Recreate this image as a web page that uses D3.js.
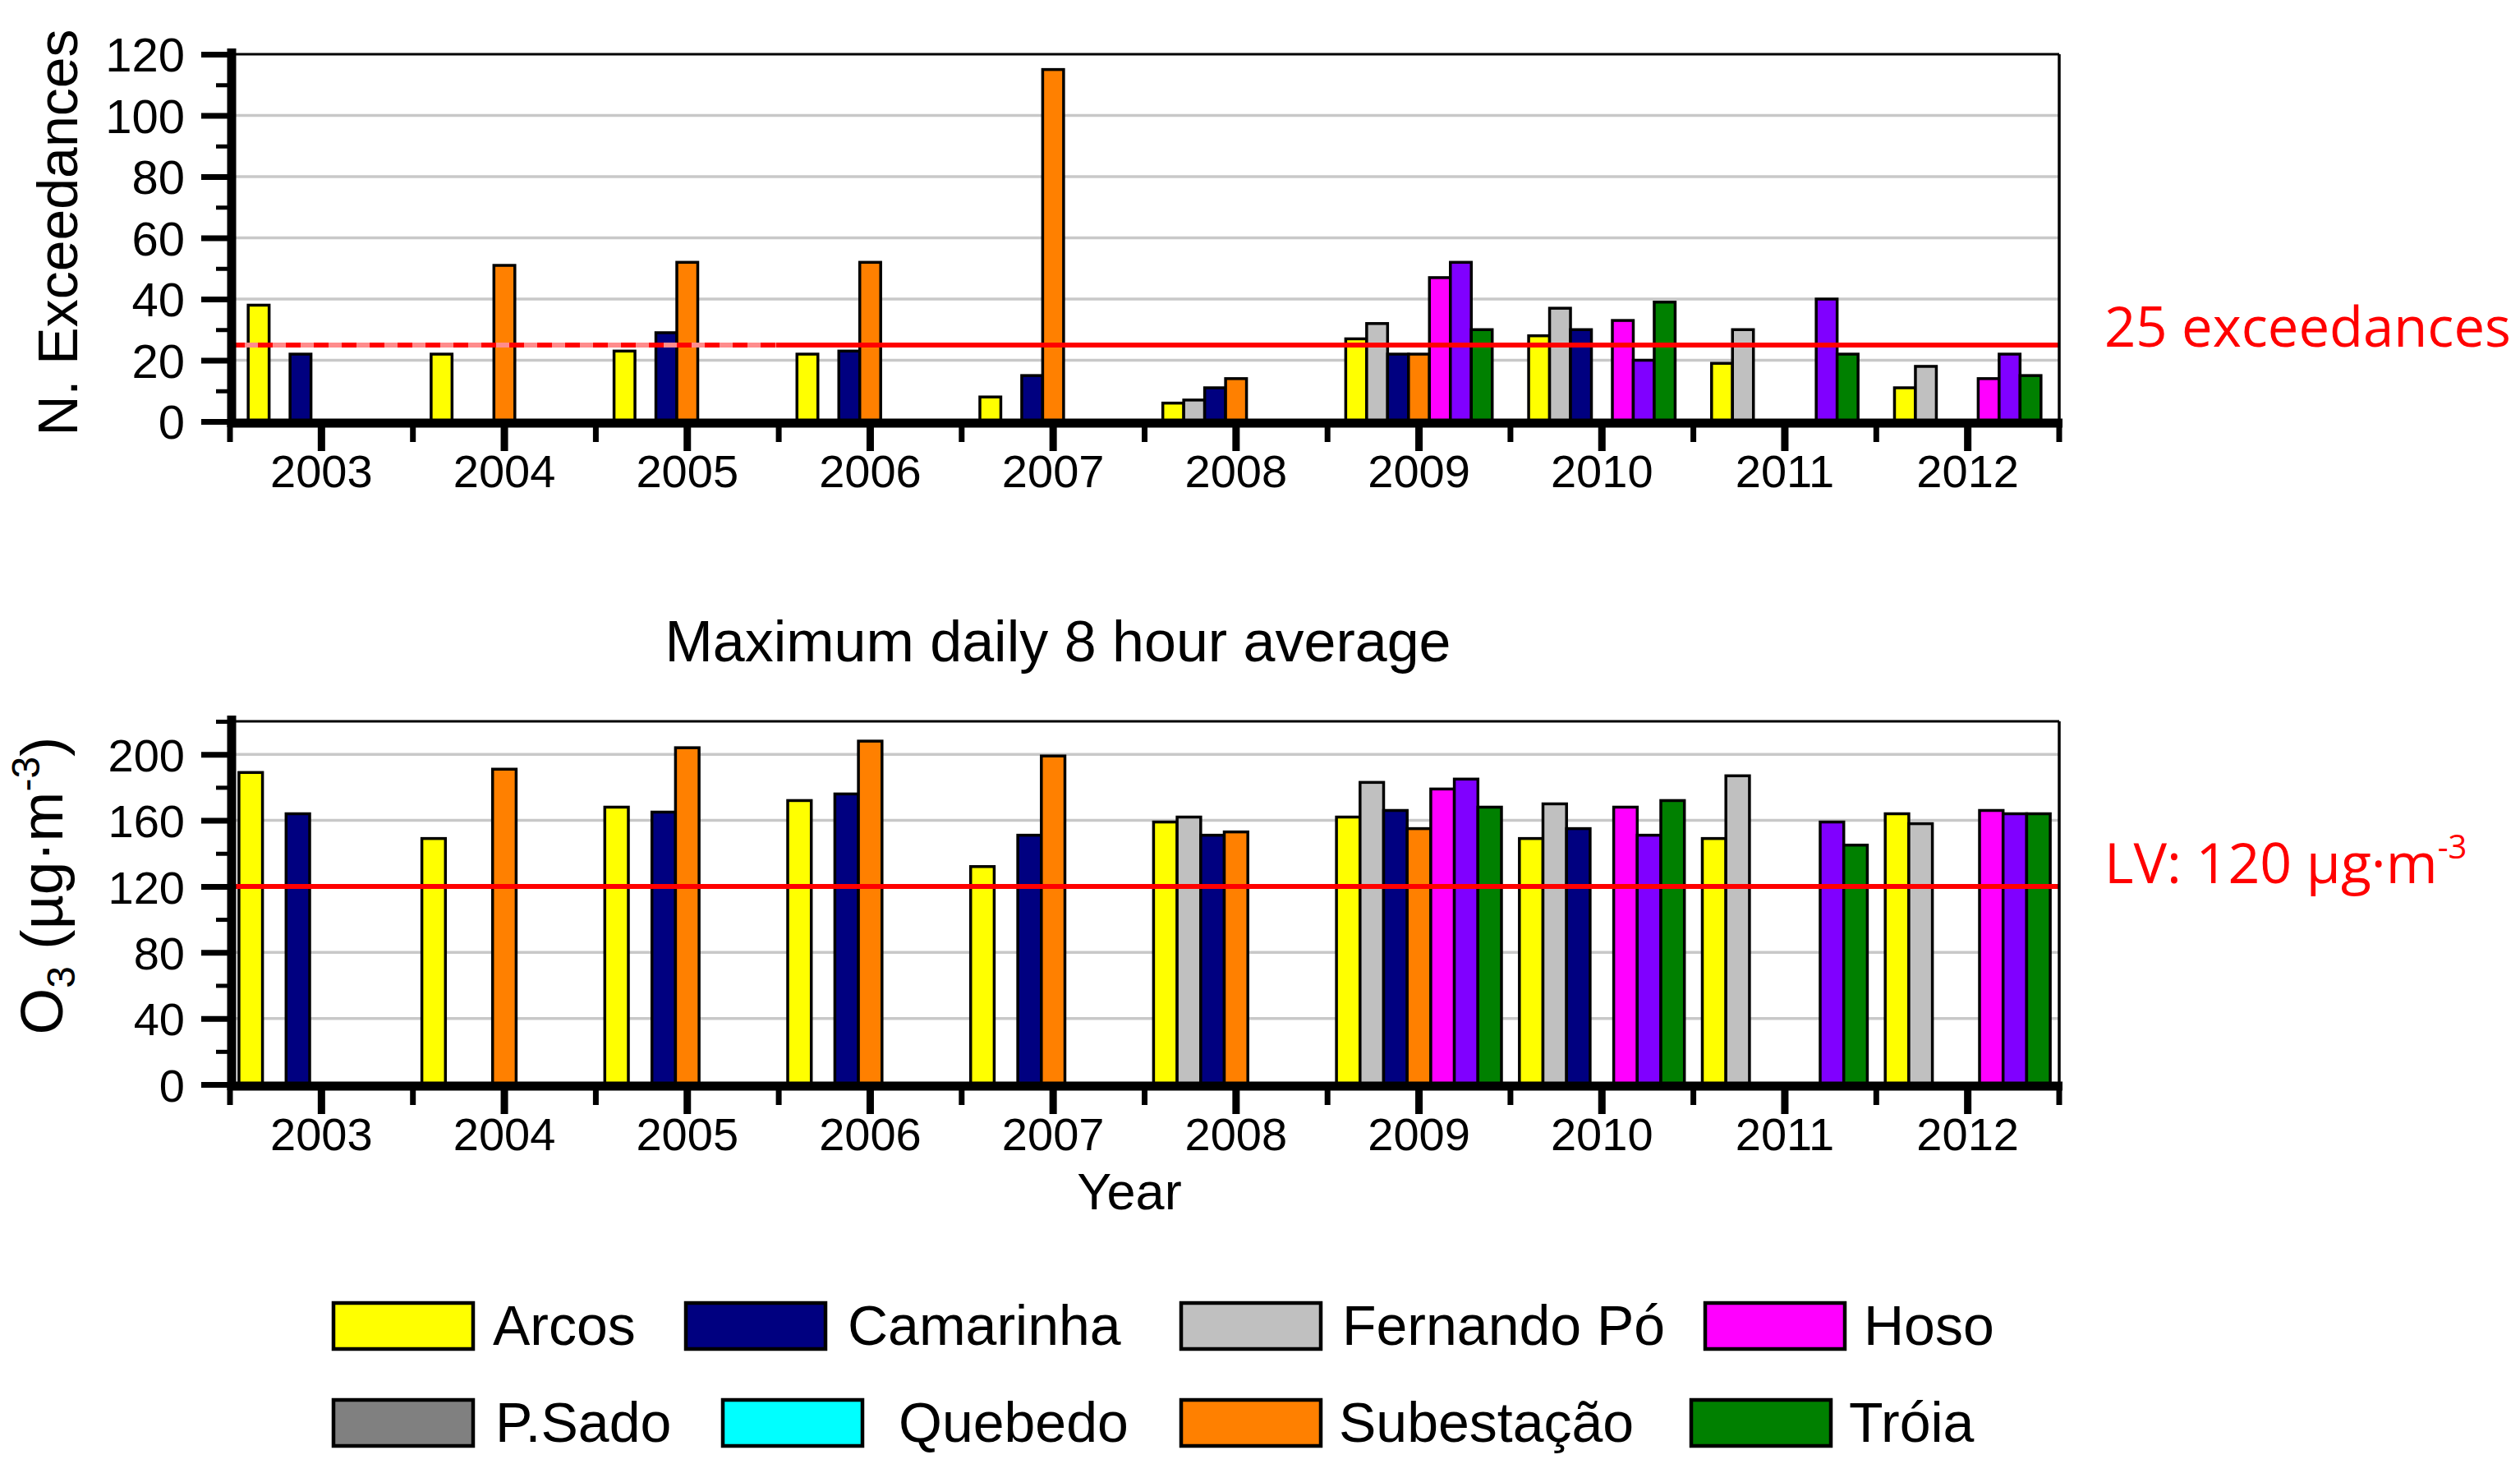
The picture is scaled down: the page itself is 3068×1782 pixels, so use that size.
<!DOCTYPE html>
<html>
<head>
<meta charset="utf-8">
<script src="https://cdn.jsdelivr.net/npm/d3@7"></script>
<style>
  html, body { margin: 0; padding: 0; background: #fff; }
  svg { display: block; }
  text { font-family: "Liberation Sans", Arial, sans-serif; fill: #000; }
  text.red { font-family: "Open Sans", sans-serif; fill: #ff0000; }
</style>
</head>
<body>
<div id="chart"></div>
<script>
const years = [2003, 2004, 2005, 2006, 2007, 2008, 2009, 2010, 2011, 2012];

/* order of the bars inside every year group */
const seriesNames = ['Arcos', 'Fernando Pó', 'Camarinha', 'Subestação', 'Hoso', 'Unlisted', 'Tróia'];

/* N. exceedances (null = no bar) */
const exArcos      = [38, 22, 23, 22, 8, 6, 27, 28, 19, 11];
const exFernandoPo = [null, null, null, null, null, 7, 32, 37, 30, 18];
const exCamarinha  = [22, null, 29, 23, 15, 11, 22, 30, null, null];
const exSubestacao = [null, 51, 52, 52, 115, 14, 22, null, null, null];
const exHoso       = [null, null, null, null, null, null, 47, 33, null, 14];
const exUnlisted   = [null, null, null, null, null, null, 52, 20, 40, 22];
const exTroia      = [null, null, null, null, null, null, 30, 39, 22, 15];

/* Maximum daily 8 hour average, ug/m3 */
const o3Arcos      = [189, 149, 168, 172, 132, 159, 162, 149, 149, 164];
const o3FernandoPo = [null, null, null, null, null, 162, 183, 170, 187, 158];
const o3Camarinha  = [164, null, 165, 176, 151, 151, 166, 155, null, null];
const o3Subestacao = [null, 191, 204, 208, 199, 153, 155, null, null, null];
const o3Hoso       = [null, null, null, null, null, null, 179, 168, null, 166];
const o3Unlisted   = [null, null, null, null, null, null, 185, 151, 159, 164];
const o3Troia      = [null, null, null, null, null, null, 168, 172, 145, 164];

const legendNames = ['Arcos', 'Camarinha', 'Fernando Pó', 'Hoso', 'P.Sado', 'Quebedo', 'Subestação', 'Tróia'];

const exTable = [exArcos, exFernandoPo, exCamarinha, exSubestacao, exHoso, exUnlisted, exTroia];
const o3Table = [o3Arcos, o3FernandoPo, o3Camarinha, o3Subestacao, o3Hoso, o3Unlisted, o3Troia];

const color = d3.scaleOrdinal()
    .domain(['Arcos', 'Camarinha', 'Fernando Pó', 'Hoso', 'P.Sado', 'Quebedo', 'Subestação', 'Tróia', 'Unlisted'])
    .range(['#ffff00', '#000080', '#c0c0c0', '#ff00ff', '#808080', '#00ffff', '#ff8000', '#008000', '#8000ff']);

const W = 3068, H = 1782;
const plotLeft = 280, plotRight = 2507;

const svg = d3.select('#chart').append('svg')
    .attr('width', W)
    .attr('height', H);

const x0 = d3.scaleBand().domain(years).range([plotLeft, plotRight]).padding(0);

function drawPanel(cfg) {
    const y = d3.scaleLinear().domain([0, cfg.max]).range([cfg.bottom, cfg.top]);
    const x1 = d3.scaleBand().domain(seriesNames)
        .range([0, x0.bandwidth()])
        .paddingInner(0)
        .paddingOuter(cfg.padOuter);

    const g = svg.append('g').attr('class', 'panel');

    /* grid */
    g.append('g').selectAll('line').data(cfg.grid).join('line')
        .attr('x1', plotLeft).attr('x2', plotRight)
        .attr('y1', d => y(d)).attr('y2', d => y(d))
        .attr('stroke', '#c8c8c8').attr('stroke-width', 3.5);

    /* bars */
    const groups = years.map((yr, i) => seriesNames
        .map((s, k) => ({ year: yr, key: s, value: cfg.table[k][i] }))
        .filter(d => d.value != null));

    g.append('g').selectAll('g').data(groups).join('g')
        .attr('transform', (d, i) => 'translate(' + x0(years[i]) + ',0)')
        .selectAll('rect').data(d => d).join('rect')
        .attr('x', d => x1(d.key))
        .attr('width', x1.bandwidth())
        .attr('y', d => y(d.value))
        .attr('height', d => y(0) - y(d.value))
        .attr('fill', d => color(d.key))
        .attr('stroke', '#000')
        .attr('stroke-width', 3.5);

    /* limit line */
    const ly = y(cfg.limit);
    if (cfg.dashedUntil) {
        g.append('line')
            .attr('x1', plotLeft).attr('x2', cfg.dashedUntil).attr('y1', ly).attr('y2', ly)
            .attr('stroke', '#ff8c8c').attr('stroke-width', 6);
        g.append('line')
            .attr('x1', plotLeft).attr('x2', cfg.dashedUntil).attr('y1', ly).attr('y2', ly)
            .attr('stroke', '#ff0000').attr('stroke-width', 6)
            .attr('stroke-dasharray', '18 16');
        g.append('line')
            .attr('x1', cfg.dashedUntil).attr('x2', plotRight).attr('y1', ly).attr('y2', ly)
            .attr('stroke', '#ff0000').attr('stroke-width', 6);
    } else {
        g.append('line')
            .attr('x1', plotLeft).attr('x2', plotRight).attr('y1', ly).attr('y2', ly)
            .attr('stroke', '#ff0000').attr('stroke-width', 6);
    }

    /* thin frame: top and right */
    g.append('line')
        .attr('x1', plotLeft).attr('x2', plotRight)
        .attr('y1', cfg.top).attr('y2', cfg.top)
        .attr('stroke', '#000').attr('stroke-width', 3);
    g.append('line')
        .attr('x1', plotRight).attr('x2', plotRight)
        .attr('y1', cfg.top).attr('y2', cfg.bottom)
        .attr('stroke', '#000').attr('stroke-width', 3.5);

    /* y axis: major + minor ticks */
    const yAxis = g.append('g').attr('transform', 'translate(' + (plotLeft + 2) + ',0)')
        .call(d3.axisLeft(y).tickValues(cfg.major).tickSize(37).tickPadding(20).tickFormat(d3.format('d')));
    yAxis.select('.domain').remove();
    yAxis.selectAll('.tick line').attr('stroke', '#000').attr('stroke-width', 7);
    yAxis.selectAll('.tick text')
        .attr('font-size', cfg.tickFont)
        .attr('font-family', '"Liberation Sans", Arial, sans-serif')
        .attr('fill', '#000')
        .attr('dy', '0.36em');

    const yMinor = g.append('g').attr('transform', 'translate(' + (plotLeft + 2) + ',0)')
        .call(d3.axisLeft(y).tickValues(cfg.minor).tickSize(19).tickFormat(''));
    yMinor.select('.domain').remove();
    yMinor.selectAll('.tick line').attr('stroke', '#000').attr('stroke-width', 5);

    g.append('line')
        .attr('x1', plotLeft + 2).attr('x2', plotLeft + 2)
        .attr('y1', cfg.top - 7).attr('y2', cfg.bottom + 7)
        .attr('stroke', '#000').attr('stroke-width', 11);

    /* x axis */
    const xAxis = g.append('g').attr('transform', 'translate(0,' + (cfg.bottom + 2) + ')')
        .call(d3.axisBottom(x0).tickSize(34).tickPadding(0));
    xAxis.select('.domain').remove();
    xAxis.selectAll('.tick line').attr('stroke', '#000').attr('stroke-width', 9);
    xAxis.selectAll('.tick text')
        .attr('font-size', 56)
        .attr('font-family', '"Liberation Sans", Arial, sans-serif')
        .attr('fill', '#000')
        .attr('y', 78)
        .attr('dy', 0);

    const edges = years.map(yr => x0(yr)).concat([plotRight]);
    g.append('g').selectAll('line').data(edges).join('line')
        .attr('x1', d => d).attr('x2', d => d)
        .attr('y1', cfg.bottom + 2).attr('y2', cfg.bottom + 25)
        .attr('stroke', '#000').attr('stroke-width', 7);

    g.append('line')
        .attr('x1', plotLeft - 3).attr('x2', plotRight + 4)
        .attr('y1', cfg.bottom + 2).attr('y2', cfg.bottom + 2)
        .attr('stroke', '#000').attr('stroke-width', 11);

    return y;
}

drawPanel({
    table: exTable, max: 120, top: 66, bottom: 513,
    major: d3.range(0, 121, 20), minor: d3.range(10, 120, 20), grid: d3.range(20, 101, 20),
    limit: 25, dashedUntil: 945, padOuter: 0.87, tickFont: 58
});

drawPanel({
    table: o3Table, max: 220, top: 878, bottom: 1320,
    major: d3.range(0, 201, 40), minor: d3.range(20, 221, 40), grid: d3.range(40, 201, 40),
    limit: 120, padOuter: 0.38, tickFont: 56
});

/* axis titles */
svg.append('text')
    .attr('transform', 'translate(94,283) rotate(-90)')
    .attr('text-anchor', 'middle')
    .attr('font-size', 68)
    .text('N. Exceedances');

const o3Title = svg.append('text')
    .attr('transform', 'translate(76,1078) rotate(-90)')
    .attr('text-anchor', 'middle')
    .attr('font-size', 73);
o3Title.append('tspan').text('O');
o3Title.append('tspan').attr('font-size', 48).attr('dy', 15).text('3');
o3Title.append('tspan').attr('dy', -15).text(' (µg·m');
o3Title.append('tspan').attr('font-size', 48).attr('dy', -28).text('-3');
o3Title.append('tspan').attr('dy', 28).text(')');

svg.append('text')
    .attr('x', 1288).attr('y', 805)
    .attr('text-anchor', 'middle')
    .attr('font-size', 70)
    .text('Maximum daily 8 hour average');

svg.append('text')
    .attr('x', 1375).attr('y', 1472)
    .attr('text-anchor', 'middle')
    .attr('font-size', 63)
    .text('Year');

/* limit labels */
svg.append('text').attr('class', 'red')
    .attr('x', 2562).attr('y', 422)
    .attr('font-size', 67)
    .text('25 exceedances');

const lv = svg.append('text').attr('class', 'red')
    .attr('x', 2562).attr('y', 1075)
    .attr('font-size', 68);
lv.append('tspan').text('LV: 120 µg·m');
lv.append('tspan').attr('font-size', 40).attr('dy', -30).text('-3');

/* legend */
const legendSwatchX = [406, 835, 1438, 2076, 406, 880, 1438, 2059];
const legendTextX = [600, 1032, 1634, 2269, 603, 1094, 1630, 2251];
const legendRowY = [1586, 1704];

const legend = svg.append('g').attr('class', 'legend')
    .selectAll('g').data(legendNames).join('g');

legend.append('rect')
    .attr('x', (d, i) => legendSwatchX[i])
    .attr('y', (d, i) => legendRowY[Math.floor(i / 4)])
    .attr('width', 170)
    .attr('height', 56)
    .attr('fill', d => color(d))
    .attr('stroke', '#000')
    .attr('stroke-width', 4.5);

legend.append('text')
    .attr('x', (d, i) => legendTextX[i])
    .attr('y', (d, i) => legendRowY[Math.floor(i / 4)] + 51)
    .attr('font-size', 68)
    .text(d => d);
</script>
</body>
</html>
